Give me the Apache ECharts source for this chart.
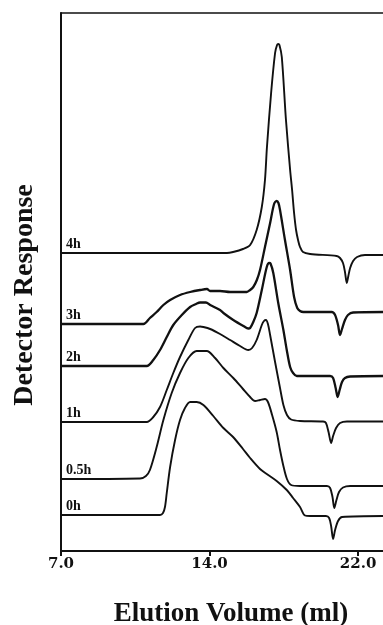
<!DOCTYPE html>
<html>
<head>
<meta charset="utf-8">
<script src="https://cdn.jsdelivr.net/npm/echarts@6/dist/echarts.min.js"></script>
<style>
  html, body { margin: 0; padding: 0; background: #fff; }
  #chart { width: 383px; height: 625px; }
</style>
</head>
<body>
<div id="chart"></div>
<script>
// Elution profiles: [elution volume (ml), detector response above own baseline]
const trace4h = [[7.00,0],[15.38,0],[15.69,1],[16.19,4],[16.55,8],[16.88,23],[17.14,46],[17.30,73],[17.40,106],[17.61,160],[17.81,200],[17.91,208],[17.97,209],[18.03,208],[18.15,196],[18.36,133],[18.57,83],[18.67,63],[18.77,40],[18.87,23],[18.97,13],[19.07,6],[19.22,1],[19.58,-1],[20.92,-3],[21.09,-5],[21.24,-10],[21.34,-19],[21.43,-30],[21.51,-23],[21.60,-15],[21.75,-8],[21.95,-4],[22.35,-2],[23.26,-2]];
const trace3h = [[7.00,0],[11.16,0],[11.49,6],[11.83,12],[12.17,19],[12.51,24],[13.01,29],[13.52,32],[14.02,34],[14.37,35],[14.53,33],[15.03,33],[15.54,32],[16.38,32],[16.55,34],[16.71,37],[16.89,44],[17.05,54],[17.30,77],[17.56,101],[17.76,120],[17.89,123],[17.98,121],[18.06,114],[18.31,84],[18.57,54],[18.77,27],[18.93,16],[19.07,13],[19.24,12],[20.67,12],[20.84,9],[20.99,-1],[21.09,-11],[21.19,-5],[21.34,4],[21.49,9],[21.75,11.5],[23.26,12]];
const trace2h = [[7.00,0],[11.33,0],[11.66,6],[12.00,16],[12.34,29],[12.67,41],[13.10,51],[13.52,59],[13.82,62],[14.02,63.5],[14.32,63.5],[14.53,61],[15.03,56],[15.20,53],[15.70,46],[16.21,40],[16.46,37.5],[16.55,38],[16.71,44],[16.88,53],[17.14,76],[17.39,99],[17.51,103],[17.58,102.5],[17.72,93],[17.97,63],[18.23,36],[18.40,16],[18.57,-1],[18.72,-7],[18.91,-10],[20.59,-10],[20.74,-12],[20.87,-22],[20.97,-31],[21.07,-24],[21.19,-16],[21.34,-12],[21.60,-10.5],[23.26,-10]];
const trace1h = [[7.00,0],[11.33,0],[11.66,5],[12.00,15],[12.34,32],[12.67,49],[13.01,65],[13.43,82],[13.77,94],[14.02,95.5],[14.19,95],[14.53,93],[15.03,88],[15.54,82],[16.04,76],[16.46,72],[16.65,74],[16.88,82],[17.14,97],[17.25,101],[17.35,102],[17.45,98],[17.56,87],[17.81,60],[18.06,34],[18.23,17],[18.41,7],[18.62,2.5],[19.07,1],[20.23,0.5],[20.38,-1],[20.51,-10],[20.64,-21],[20.74,-14],[20.89,-6],[21.09,-1],[21.44,0.5],[23.26,0.5]];
const trace05h = [[7.00,0],[10.99,0.5],[11.29,3],[11.49,9],[11.83,32],[12.17,59],[12.59,86],[13.01,106],[13.43,121],[13.85,128],[14.36,128],[14.78,121],[15.20,111],[15.70,101],[16.19,90],[16.55,82],[16.80,78],[17.05,79],[17.30,80],[17.45,77],[17.66,64],[17.89,47],[18.06,29],[18.23,13],[18.41,0],[18.62,-6],[19.07,-7],[20.43,-7],[20.59,-9],[20.71,-18],[20.80,-29],[20.91,-21],[21.04,-13],[21.24,-8.5],[21.60,-7],[23.26,-7]];
const trace0h = [[7.00,0],[12.00,0],[12.15,2],[12.25,8],[12.34,22],[12.51,48],[12.76,75],[13.01,95],[13.26,107],[13.52,113],[13.85,113],[14.19,110],[14.69,99],[15.20,87],[15.69,78],[16.19,66],[16.55,57],[17.05,46],[17.39,41],[17.89,34],[18.40,25],[18.72,17],[19.07,8],[19.32,-0.5],[19.58,-1],[20.38,-1],[20.54,-3],[20.64,-11],[20.74,-24],[20.84,-15],[20.99,-6],[21.19,-2],[23.26,-1]];

// Reaction times and the vertical offset each trace is stacked at
const traceNames = ['4h', '3h', '2h', '1h', '0.5h', '0h'];
const traceOffsets = [298, 227, 185, 129, 72, 36];
const traces = [trace4h, trace3h, trace2h, trace1h, trace05h, trace0h];

// Bottom axis ticks and their printed labels
const tickValues = [7, 14.5, 22];
const tickLabels = ['7.0', '14.0', '22.0'];

const X_MIN = 7, X_MAX = 23.26;
const INK = '#111';

const series = traces.map((tr, i) => ({
  type: 'line',
  name: traceNames[i],
  data: tr.map(p => [p[0], p[1] + traceOffsets[i]]),
  showSymbol: false,
  symbol: 'none',
  smooth: 0.3,
  lineStyle: { color: INK, width: (i === 1 || i === 2) ? 2.3 : 1.9 },
  silent: true,
  animation: false,
  markPoint: {
    symbol: 'circle',
    symbolSize: 0,
    silent: true,
    data: [{
      coord: [X_MIN, traceOffsets[i]],
      label: {
        show: true,
        formatter: traceNames[i],
        position: 'right',
        distance: 5,
        offset: [0, -9],
        color: INK,
        fontFamily: 'Liberation Serif',
        fontWeight: 'bold',
        fontSize: 14
      }
    }]
  }
}));

const chart = echarts.init(document.getElementById('chart'), null, { renderer: 'canvas' });
chart.setOption({
  animation: false,
  backgroundColor: '#fff',
  grid: { left: 61, right: 0, top: 13, bottom: 74, containLabel: false, outerBoundsMode: 'none' },
  xAxis: [{
    type: 'value',
    min: X_MIN,
    max: X_MAX,
    position: 'bottom',
    name: 'Elution Volume (ml)',
    nameLocation: 'middle',
    nameGap: 50,
    nameTextStyle: {
      color: INK, fontFamily: 'Liberation Serif', fontWeight: 'bold', fontSize: 27,
      padding: [0, 0, 0, 18]
    },
    axisLine: { show: true, onZero: false, lineStyle: { color: INK, width: 2 } },
    axisTick: { show: true, inside: false, length: 5, customValues: tickValues, lineStyle: { color: INK, width: 2 } },
    axisLabel: {
      show: true,
      customValues: tickValues,
      margin: 6,
      color: INK,
      fontFamily: 'DejaVu Serif',
      fontWeight: 'bold',
      fontSize: 15,
      formatter: v => {
        const k = tickValues.findIndex(t => Math.abs(t - v) < 1e-6);
        return k >= 0 ? tickLabels[k] : '';
      }
    },
    splitLine: { show: false }
  }, {
    type: 'value',
    min: X_MIN,
    max: X_MAX,
    position: 'top',
    axisLine: { show: true, onZero: false, lineStyle: { color: INK, width: 1.6 } },
    axisTick: { show: false },
    axisLabel: { show: false },
    splitLine: { show: false }
  }],
  yAxis: {
    type: 'value',
    min: 0,
    max: 538,
    name: 'Detector Response',
    nameLocation: 'middle',
    nameRotate: 90,
    nameGap: 22,
    nameTextStyle: {
      color: INK, fontFamily: 'Liberation Serif', fontWeight: 'bold', fontSize: 28,
      padding: [0, 26, 0, 0]
    },
    axisLine: { show: true, onZero: false, lineStyle: { color: INK, width: 2 } },
    axisTick: { show: false },
    axisLabel: { show: false },
    splitLine: { show: false }
  },
  series: series
});
</script>
</body>
</html>
